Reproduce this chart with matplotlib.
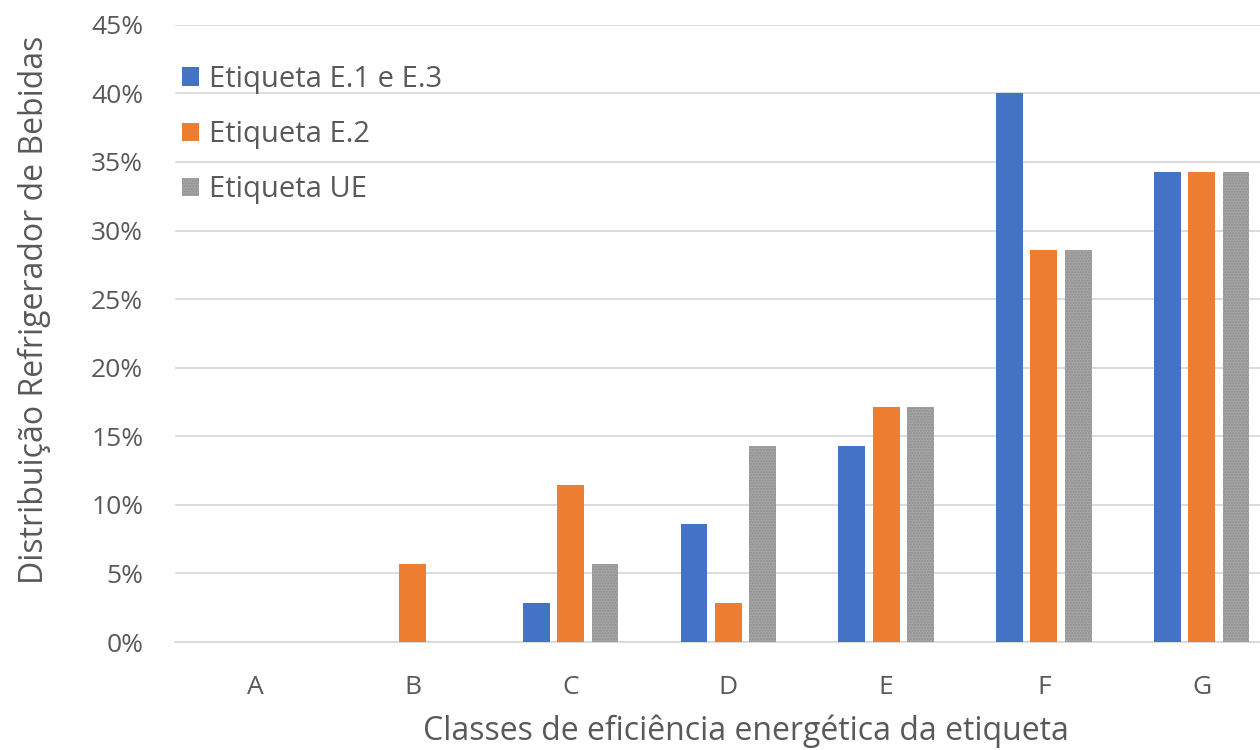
import matplotlib
matplotlib.use("Agg")
import matplotlib.pyplot as plt
import numpy as np

categories = ["A", "B", "C", "D", "E", "F", "G"]
etiqueta_e1_e3 = [0.0, 0.0, 2.86, 8.57, 14.29, 40.0, 34.29]
etiqueta_e2 = [0.0, 5.71, 11.43, 2.86, 17.14, 28.57, 34.29]
etiqueta_ue = [0.0, 0.0, 5.71, 14.29, 17.14, 28.57, 34.29]
series_names = ["Etiqueta E.1 e E.3", "Etiqueta E.2", "Etiqueta UE"]
yticks = [0, 5, 10, 15, 20, 25, 30, 35, 40, 45]

plt.rcParams["font.family"] = ["Open Sans", "DejaVu Sans"]
plt.rcParams["hatch.color"] = "#8f8f8f"
text_color = "#595959"

fig = plt.figure(figsize=(12.6, 7.5), dpi=100)
ax = fig.add_axes([0.139, 0.144, 0.861, 0.823])

x = np.arange(len(categories))
width = 0.17
offset = 0.218
colors = ["#4472C4", "#ED7D31", "#A5A5A5"]
series = [etiqueta_e1_e3, etiqueta_e2, etiqueta_ue]
handles = []
for i, (vals, col, name) in enumerate(zip(series, colors, series_names)):
    kw = {}
    if i == 2:
        kw = dict(hatch="......", edgecolor="#8f8f8f", linewidth=0)
    b = ax.bar(x + (i - 1) * offset, vals, width, color=col, label=name,
               zorder=3, **kw)
    handles.append(b)

ax.set_ylim(0, 45)
ax.set_xlim(-0.507, 6.37)
ax.set_yticks(yticks)
ax.set_yticklabels([f"{t}%" for t in yticks])
ax.set_xticks(x)
ax.set_xticklabels(categories)
ax.grid(axis="y", color="#D9D9D9", linewidth=1.3, zorder=0)
for s in ["top", "right", "left"]:
    ax.spines[s].set_visible(False)
ax.spines["bottom"].set_color("#D9D9D9")
ax.spines["bottom"].set_linewidth(1.3)
ax.tick_params(axis="both", length=0, labelsize=19, colors=text_color)
ax.tick_params(axis="x", pad=24)
ax.tick_params(axis="y", pad=23)

ax.set_xlabel("Classes de eficiência energética da etiqueta", fontsize=23,
              color=text_color)
ax.set_ylabel("Distribuição Refrigerador de Bebidas", fontsize=23,
              color=text_color)
ax.xaxis.set_label_coords(0.526, -0.118)
ax.yaxis.set_label_coords(-0.114, 0.538)

leg = ax.legend(handles=handles, loc="upper left",
                bbox_to_anchor=(0.135, 0.929), bbox_transform=fig.transFigure,
                frameon=False, fontsize=21, handlelength=0.6,
                handleheight=0.6, handletextpad=0.35, labelspacing=0.9,
                borderaxespad=0)
for t in leg.get_texts():
    t.set_color(text_color)

fig.savefig("out.png", dpi=100)
